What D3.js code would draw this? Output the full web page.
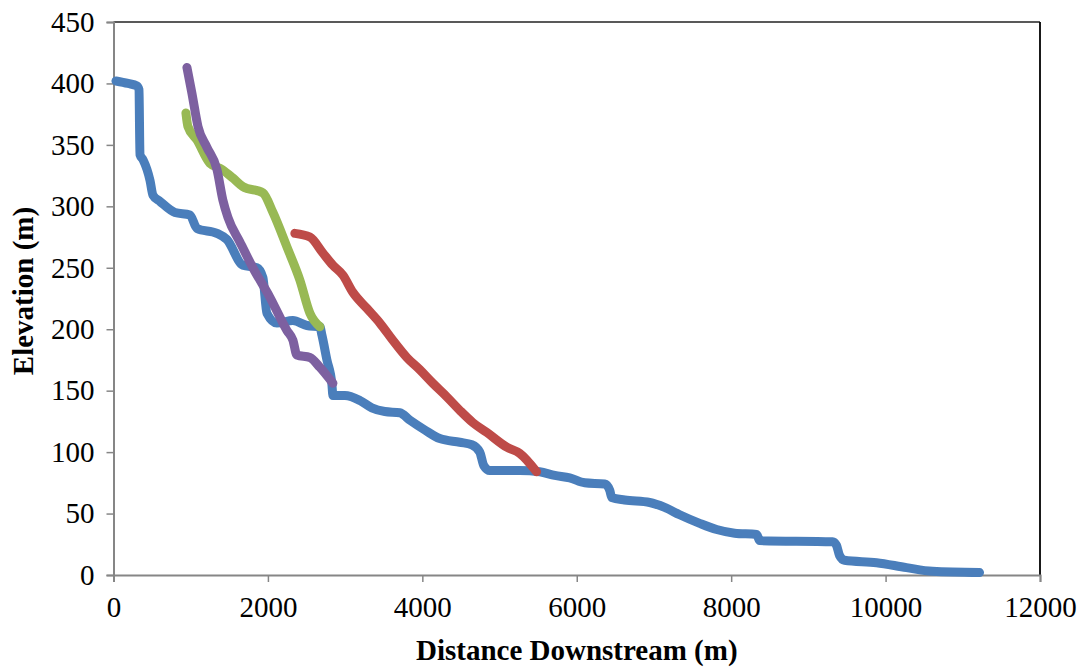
<!DOCTYPE html>
<html><head><meta charset="utf-8">
<script src="https://cdn.jsdelivr.net/npm/d3@7/dist/d3.min.js"></script>
<style>body{margin:0;background:#fff}svg{display:block}</style>
</head><body>
<svg id="c" width="1083" height="668"></svg>
<script>
const xTicks=[0,2000,4000,6000,8000,10000,12000];
const yTicks=[0,50,100,150,200,250,300,350,400,450];
const xTitle="Distance Downstream (m)";
const yTitle="Elevation (m)";
const blueX=[32,188,304,330,343,382,473,511,602,796,990,1081,1340,1469,1676,1858,1935,1987,2116,2324,2505,2673,2700,2764,2829,2842,2997,3191,3346,3514,3708,3838,4032,4226,4485,4641,4744,4796,4873,5261,5520,5715,5909,6103,6362,6427,6453,6621,6945,7139,7333,7592,7812,8045,8330,8369,9313,9365,9403,9468,9883,10271,10608,11217];
const blueY=[402,400,398,395,342,338,321,309,304,295,293,282,278,273,252,250,242,213,205,207,203,202,195,175,155,146,146,142,136,133,132,126,118,111,108,106,100,89,85,85,84,81,79,75,74,69,63,61,59,55,49,42,37,34,33,28,27,24,16,12,10,6,3,2];
const redX=[2349,2544,2712,2842,2971,3101,3281,3450,3618,3799,3968,4136,4317,4485,4654,4835,5094,5261,5480];
const redY=[278,275,262,252,244,230,217,205,191,177,167,156,145,134,124,116,104,99,84];
const greenX=[938,964,1081,1249,1405,1547,1676,1935,2065,2246,2414,2544,2673];
const greenY=[376,365,354,335,330,323,316,311,295,267,240,213,202];
const purpleX=[951,1016,1094,1210,1340,1417,1482,1637,1806,2026,2246,2324,2375,2544,2673,2842];
const purpleY=[413,392,365,348,330,305,291,271,250,226,199,191,179,177,169,156];

const series=[
 {xs:blueX,ys:blueY,color:"#4a7ebb"},
 {xs:redX,ys:redY,color:"#be4b48"},
 {xs:greenX,ys:greenY,color:"#98b954"},
 {xs:purpleX,ys:purpleY,color:"#7d60a0"}
];

const svg=d3.select("#c");
const x=d3.scaleLinear().domain([0,12000]).range([113.5,1040]);
const y=d3.scaleLinear().domain([0,450]).range([575,22]);
const font="'Liberation Serif','Times New Roman',serif";

svg.append("line").attr("x1",x(0)).attr("x2",x(12000)).attr("y1",y(450)).attr("y2",y(450)).attr("stroke","#222").attr("stroke-width",1.5);
svg.append("line").attr("x1",x(12000)).attr("x2",x(12000)).attr("y1",y(450)).attr("y2",y(0)).attr("stroke","#000").attr("stroke-width",1.8);

const gx=svg.append("g").attr("transform",`translate(0,${y(0)})`)
 .call(d3.axisBottom(x).tickValues(xTicks).tickSize(7).tickPadding(12).tickFormat(d3.format("d")));
const gy=svg.append("g").attr("transform",`translate(${x(0)},0)`)
 .call(d3.axisLeft(y).tickValues(yTicks).tickSize(7).tickPadding(12).tickFormat(d3.format("d")));
[gx,gy].forEach(g=>{
 g.select(".domain").attr("stroke","#868686").attr("stroke-width",2);
 g.selectAll(".tick line").attr("stroke","#868686").attr("stroke-width",1.5);
 g.selectAll("text").attr("font-family",font).attr("font-size",29).attr("fill","#000");
});
gx.selectAll("text").attr("dy","0.8em");

const line=d3.line().x(d=>x(d[0])).y(d=>y(d[1])).curve(d3.curveMonotoneX);
series.forEach(s=>{
 const pts=s.xs.map((v,i)=>[v,s.ys[i]]);
 svg.append("path").datum(pts).attr("d",line).attr("fill","none")
  .attr("stroke",s.color).attr("stroke-width",9)
  .attr("stroke-linejoin","round").attr("stroke-linecap","round");
});

svg.append("text").attr("x",(x(0)+x(12000))/2).attr("y",660).attr("text-anchor","middle")
 .attr("font-family",font).attr("font-weight","bold").attr("font-size",29).text(xTitle);
svg.append("text").attr("transform",`translate(33,291) rotate(-90)`).attr("text-anchor","middle")
 .attr("font-family",font).attr("font-weight","bold").attr("font-size",29).text(yTitle);
</script>
</body></html>
